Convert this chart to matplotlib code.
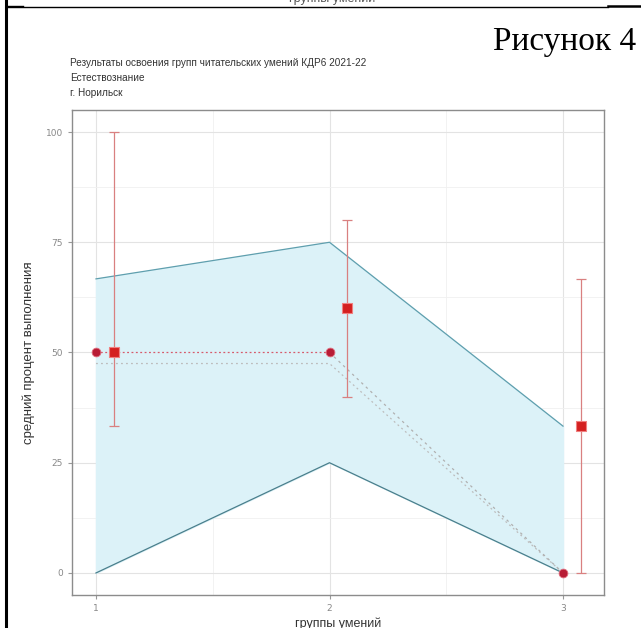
import numpy as np
import matplotlib
matplotlib.use('Agg')
import matplotlib.pyplot as plt
from matplotlib.lines import Line2D

# groups of skills
groups = [1, 2, 3]
# ribbon (min / max over schools)
band_low = [0, 25, 0]
band_high = [66.7, 75, 33.3]
# city result (circles)
city_mean = [50, 50, 0]
# grey reference line
ref_line = [47.5, 47.5, 0]
# squares with error bars
sq_mean = [50, 60, 33.3]
sq_low = [33.3, 40, 0]
sq_high = [100, 80, 66.7]
dodge = 0.075

fig = plt.figure(figsize=(6.41, 6.28), dpi=100)
ax = fig.add_axes([72/641, 1-595/628, (604-72)/641, (595-110)/628])

x = np.array(groups, dtype=float)

# ribbon
ax.fill_between(x, band_low, band_high, color='#dcf2f8', zorder=1)
ax.plot(x, band_high, color='#5f9fae', lw=0.9, zorder=2)
ax.plot(x, band_low, color='#4a7f8c', lw=0.9, zorder=2)

# dotted lines
ax.plot(x, ref_line, color='#bdbdbd', lw=0.9, ls=(0, (1.5, 2.5)), zorder=3)
ax.plot(x[:2], city_mean[:2], color='#d65a6a', lw=0.9, ls=(0, (1.5, 2)), zorder=3)
ax.plot(x[1:], city_mean[1:], color='#b0b0b0', lw=0.9, ls=(0, (2, 3)), zorder=3)

# error bars + squares
ax.errorbar(x + dodge, sq_mean,
            yerr=[np.array(sq_mean) - np.array(sq_low), np.array(sq_high) - np.array(sq_mean)],
            fmt='none', ecolor='#d98080', elinewidth=0.9, capsize=3.5, capthick=0.9, zorder=4)
ax.scatter(x + dodge, sq_mean, marker='s', s=55, color='#d42020', edgecolor='#f08080',
           linewidth=0.8, zorder=5)
ax.scatter(x, city_mean, marker='o', s=40, color='#b81c35', edgecolor='#e07080',
           linewidth=0.6, zorder=5)

ax.set_xlim(1 - 24/233.5, 3 + 41/233.5)
ax.set_ylim(-5, 105)
ax.set_xticks(groups)
ax.set_yticks([0, 25, 50, 75, 100])
ax.set_xticks([1.5, 2.5], minor=True)
ax.set_yticks([12.5, 37.5, 62.5, 87.5], minor=True)
ax.grid(True, which='major', color='#e3e3e3', lw=0.8, zorder=0)
ax.grid(True, which='minor', color='#f0f0f0', lw=0.6, zorder=0)
ax.set_axisbelow(True)
ax.tick_params(which='major', length=3, color='#999999', labelsize=6.5, labelcolor='#888888', width=0.8)
ax.tick_params(which='minor', length=0)
for s in ax.spines.values():
    s.set_color('#8c8c8c')
    s.set_linewidth(1.0)

ax.set_ylabel('средний процент выполнения', fontsize=9.5, color='#333333', labelpad=8,
              family='Liberation Sans')
ax.set_xlabel('группы умений', fontsize=9, color='#333333', labelpad=3, family='Liberation Sans')

# title block
tkw = dict(fontsize=7.2, color='#333333', va='center', ha='left', family='Liberation Sans')
fig.text(70/641, 1-63/628, 'Результаты освоения групп читательских умений КДР6 2021-22', **tkw)
fig.text(70/641, 1-78/628, 'Естествознание', **tkw)
fig.text(70/641, 1-93/628, 'г. Норильск', **tkw)

fig.text(636/641, 1-42/628, 'Рисунок 4', fontsize=24, family='Liberation Serif',
         color='black', va='center', ha='right')

# cut-off caption at the very top
fig.text(332/641, 1+1/628, 'группы умений', fontsize=9, color='#555555', va='center',
         ha='center', family='Liberation Sans')

# page/table border lines
fig.add_artist(Line2D([6/641, 6/641], [0, 1], color='black', lw=2.2, transform=fig.transFigure))
fig.add_artist(Line2D([6/641, 608/641], [1-7/628, 1-7/628], color='black', lw=1.0,
                      transform=fig.transFigure))
fig.add_artist(Line2D([6/641, 23/641], [1-6/628, 1-6/628], color='black', lw=1.0,
                      transform=fig.transFigure))
fig.add_artist(Line2D([608/641, 1], [1-5.5/628, 1-5.5/628], color='black', lw=1.8,
                      transform=fig.transFigure))

fig.savefig('out.png', dpi=100)
